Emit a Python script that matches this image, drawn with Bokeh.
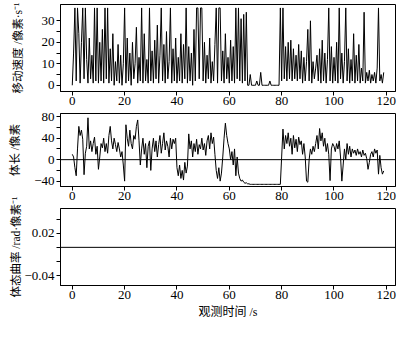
from bokeh.plotting import figure
from bokeh.layouts import column
from bokeh.models import Range1d, FixedTicker, Span
from bokeh.embed import file_html
from bokeh.resources import INLINE

# ---------------- data ----------------
step = 0.5  # sampling interval, s

speed = [
    0, 15, 36, 2, 36, 24, 1, 20, 36, 3, 36, 12, 1, 22, 3, 14, 1, 36, 2, 36,
    1, 20, 2, 26, 1, 36, 3, 36, 1, 17, 2, 24, 0, 11, 2, 19, 1, 14, 0, 10,
    36, 1, 22, 2, 15, 0, 20, 3, 10, 27, 1, 13, 2, 36, 1, 24, 2, 12, 1, 36,
    2, 16, 1, 21, 3, 28, 1, 14, 36, 2, 19, 1, 25, 3, 11, 36, 1, 17, 2, 22,
    1, 13, 2, 24, 1, 19, 3, 36, 1, 18, 2, 15, 0, 26, 2, 36, 36, 3, 36, 36,
    2, 20, 1, 14, 3, 22, 1, 11, 2, 19, 36, 1, 36, 36, 2, 16, 1, 24, 3, 13,
    1, 21, 2, 18, 1, 36, 3, 36, 2, 31, 1, 33, 2, 34, 0, 0, 5, 0, 0, 0,
    0, 2, 0, 0, 6, 0, 0, 0, 0, 0, 0, 2, 0, 0, 0, 0, 0, 0, 0, 36,
    2, 36, 3, 18, 2, 20, 3, 21, 2, 17, 3, 14, 2, 19, 3, 16, 1, 13, 2, 11,
    26, 2, 30, 1, 11, 3, 8, 14, 2, 17, 1, 21, 2, 15, 1, 12, 36, 2, 18, 1,
    13, 2, 20, 1, 36, 3, 15, 1, 11, 36, 2, 17, 1, 12, 2, 24, 1, 14, 2, 19,
    1, 8, 2, 34, 1, 6, 2, 7, 1, 5, 2, 6, 1, 8, 36, 2, 5, 1, 6,
]

length = [
    10, 5, -15, -30, 20, 62, 45, 55, 38, -28, 12, 25, 78, 20, 35, 15, 30, 42, 10, 25,
    -18, 5, 30, 22, 40, 15, 30, 12, 45, 62, 35, 20, 40, 28, 15, 32, 20, 5, 15, -10,
    -40, 65, 40, 25, 55, 30, 20, 45, 38, 62, 74, 35, -10, 20, 40, 10, 30, -15, 25, 35,
    -20, 20, 40, 15, 35, 5, 28, 45, 12, 30, 50, 18, 35, 25, 5, 40, 20, 38, 30, 40,
    -15, -30, -10, -35, -20, -38, -5, -25, -12, 48, 20, 35, 5, 30, 15, 38, 10, 28, 20, 40,
    18, 30, 8, 35, 45, 20, 50, 30, 42, 10, -20, -35, -15, -40, -25, 5, 40, 68, 45, 30,
    20, 0, 15, -10, 20, -30, 5, -25, -35, -40, -38, -42, -44, -43, -45, -45, -46, -46, -46, -46,
    -46, -46, -46, -46, -46, -46, -46, -46, -46, -46, -46, -46, -46, -46, -46, -46, -46, -46, -46, -46,
    5, 57, 20, 45, 30, 50, 25, 40, 10, 45, 22, 38, 15, 42, 28, 35, 10, 30, 5, -40,
    -42, 0, 20, 10, 25, 15, 30, 45, 20, 58, 35, 50, 25, 40, 15, 30, 10, -39, 20, 30,
    25, 15, 30, 20, 35, 5, -40, -10, 20, 0, 30, 10, 25, 5, 20, 12, 18, 8, 20, 10,
    15, 5, 18, 8, 12, 2, -18, -5, 10, 15, 5, 20, 12, 18, -27, 8, -15, -27, -21,
]

t_speed = [i * step for i in range(len(speed))]
t_length = [i * step for i in range(len(length))]

x_ticks = [0, 20, 40, 60, 80, 100, 120]
speed_ticks = [0, 10, 20, 30]
speed_minor = [5, 15, 25]
length_ticks = [-40, 0, 40, 80]
length_minor = [-20, 20, 60]
curv_ticks = [-0.04, 0.02]
curv_minor = [-0.02, 0.0, 0.04]
curv_level = 0.0

ylabel1 = "移动速度 /像素·s⁻¹"
ylabel2 = "体长 /像素"
ylabel3 = "体态曲率 /rad·像素⁻¹"
xlabel = "观测时间 /s"

SERIF = "Liberation Serif"
LABEL_FONT = "Liberation Serif, Noto Sans CJK SC"
LABEL_SIZE = "11.5px"
W = 399


def make(height, top, bottom, yr, yticks, yminor, ylabel, standoff):
    p = figure(width=W, height=height, output_backend="svg", toolbar_location=None,
               x_range=Range1d(-4.5, 123.5), y_range=Range1d(*yr),
               min_border_left=60, min_border_right=4,
               min_border_top=top, min_border_bottom=bottom)
    p.outline_line_color = "black"
    p.outline_line_width = 1
    p.outline_line_alpha = 1
    p.grid.visible = False
    p.background_fill_color = "white"
    p.border_fill_alpha = 0
    p.xaxis.ticker = FixedTicker(ticks=x_ticks)
    p.yaxis.ticker = FixedTicker(ticks=yticks, minor_ticks=yminor)
    for ax in (p.xaxis[0], p.yaxis[0]):
        ax.axis_line_color = "black"
        ax.major_tick_line_color = "black"
        ax.minor_tick_line_color = "black"
        ax.major_tick_in = 0
        ax.major_tick_out = 4
        ax.minor_tick_in = 0
        ax.minor_tick_out = 4
        ax.major_label_text_font = SERIF
        ax.major_label_text_font_size = "13px"
        ax.major_label_text_color = "black"
    p.xaxis.major_label_standoff = 1
    p.yaxis.major_label_standoff = 2
    p.xaxis.minor_tick_line_color = None
    p.yaxis.axis_label = ylabel
    p.yaxis.axis_label_text_font = LABEL_FONT
    p.yaxis.axis_label_text_font_size = LABEL_SIZE
    p.yaxis.axis_label_text_font_style = "normal"
    p.yaxis.axis_label_text_color = "black"
    p.yaxis.axis_label_standoff = standoff
    return p


p1 = make(110, 4, 19, (-2.9, 37.6), speed_ticks, speed_minor, ylabel1, 15)
p1.line(t_speed, speed, line_color="black", line_width=1)

p2 = make(95, 3, 19, (-50, 86), length_ticks, length_minor, ylabel2, 10)
p2.line(t_length, length, line_color="black", line_width=1)
p2.add_layout(Span(location=0, dimension="width", line_color="black", line_width=1))

p3 = make(131, 17, 37, (-0.054, 0.055), curv_ticks, curv_minor, ylabel3, -1)
p3.margin = (-14, 0, 0, 0)
p3.add_layout(Span(location=curv_level, dimension="width", line_color="black", line_width=1))
p3.xaxis.axis_label = xlabel
p3.xaxis.axis_label_text_font = LABEL_FONT
p3.xaxis.axis_label_text_font_size = "12px"
p3.xaxis.axis_label_text_font_style = "normal"
p3.xaxis.axis_label_text_color = "black"
p3.xaxis.axis_label_standoff = 3

layout = column(p1, p2, p3)
open("out.html", "w").write(file_html(layout, INLINE))
